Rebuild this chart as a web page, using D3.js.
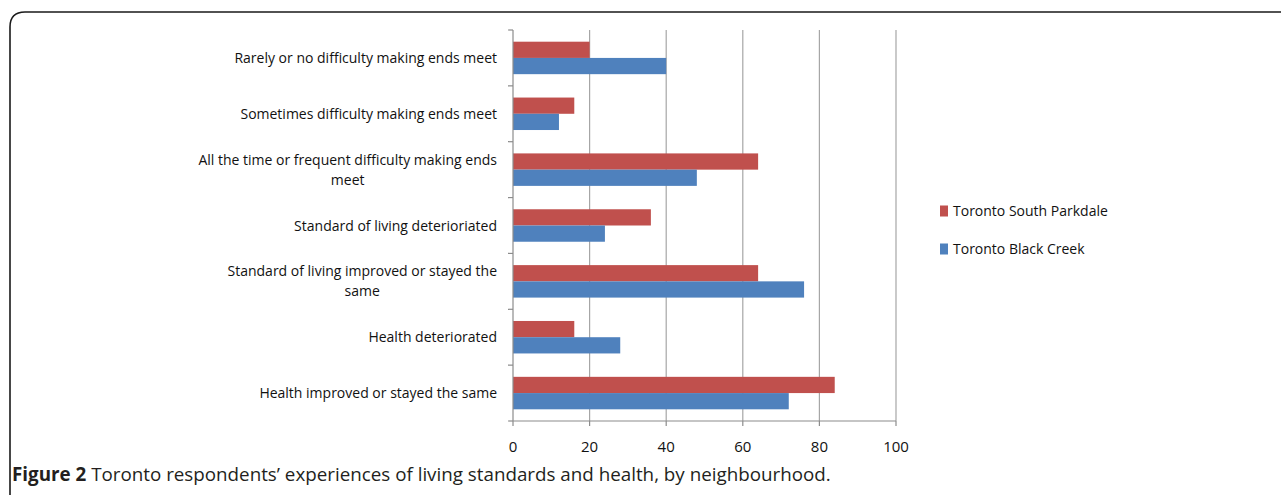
<!DOCTYPE html>
<html>
<head>
<meta charset="utf-8">
<script src="https://cdn.jsdelivr.net/npm/d3@7"></script>
<style>
  html, body { margin: 0; padding: 0; background: #fff; }
  svg { display: block; }
  .lbl { font-family: "Open Sans", "Noto Sans", sans-serif; font-size: 14px; fill: #111; }
  .tick { font-size: 15px; }
  .caption { font-family: "Open Sans", "Noto Sans", sans-serif; font-size: 18.8px; fill: #231f20; }
</style>
</head>
<body>
<div id="chart"></div>
<script>
// --- DATA ---
const categories = [
    ["Rarely or no difficulty making ends meet"],
    ["Sometimes difficulty making ends meet"],
    ["All the time or frequent difficulty making ends", "meet"],
    ["Standard of living deterioriated"],
    ["Standard of living improved or stayed the", "same"],
    ["Health deteriorated"],
    ["Health improved or stayed the same"]
];
const seriesNames = ["Toronto South Parkdale", "Toronto Black Creek"];
const parkdale   = [20, 16, 64, 36, 64, 16, 84];
const blackCreek = [40, 12, 48, 24, 76, 28, 72];
const xTicks = [0, 20, 40, 60, 80, 100];

const width = 1281, height = 495;
const margin = { top: 30, left: 513, right: 385, bottom: 74 };
const colors = ["#C0504D", "#4F81BD"];

const svg = d3.select("#chart").append("svg")
    .attr("width", width).attr("height", height);

// rounded frame, open to the right and bottom
svg.append("path")
    .attr("d", `M10,${height + 2} L10,27 Q10,12 25,12 L${width + 2},12`)
    .attr("fill", "none")
    .attr("stroke", "#1a1a1a")
    .attr("stroke-width", 1.6);

const xScale = d3.scaleLinear()
    .domain([0, 100])
    .range([margin.left, width - margin.right]);

const yScale = d3.scaleBand()
    .domain(d3.range(categories.length))
    .range([margin.top, height - margin.bottom])
    .padding(0);

const inner = d3.scaleBand()
    .domain([0, 1])
    .range([0, yScale.bandwidth()])
    .paddingInner(0)
    .paddingOuter(0.72);

// gridlines
svg.append("g").selectAll("line")
    .data(xTicks.filter(t => t > 0)).enter().append("line")
    .attr("x1", d => xScale(d)).attr("x2", d => xScale(d))
    .attr("y1", margin.top).attr("y2", height - margin.bottom)
    .attr("stroke", "#a6a6a6").attr("stroke-width", 1.2);

// bars
const rows = categories.map((c, i) => ({ i, vals: [parkdale[i], blackCreek[i]] }));
const groups = svg.append("g").selectAll("g")
    .data(rows).enter().append("g")
    .attr("transform", d => `translate(0,${yScale(d.i)})`);

groups.selectAll("rect")
    .data(d => d.vals.map((v, s) => ({ v, s }))).enter().append("rect")
    .attr("x", xScale(0))
    .attr("y", d => inner(d.s))
    .attr("width", d => xScale(d.v) - xScale(0))
    .attr("height", inner.bandwidth())
    .attr("fill", d => colors[d.s]);

// axes
const axisColor = "#8c8c8c";
const yBottom = height - margin.bottom;
svg.append("line")
    .attr("x1", xScale(0)).attr("x2", xScale(0))
    .attr("y1", margin.top).attr("y2", yBottom)
    .attr("stroke", axisColor).attr("stroke-width", 1.2);
svg.append("line")
    .attr("x1", xScale(0)).attr("x2", xScale(100))
    .attr("y1", yBottom).attr("y2", yBottom)
    .attr("stroke", axisColor).attr("stroke-width", 1.2);

const boundaries = d3.range(categories.length + 1).map(i =>
    i < categories.length ? yScale(i) : yScale(i - 1) + yScale.bandwidth());
svg.append("g").selectAll("line")
    .data(boundaries).enter().append("line")
    .attr("x1", xScale(0) - 5).attr("x2", xScale(0))
    .attr("y1", d => d).attr("y2", d => d)
    .attr("stroke", axisColor).attr("stroke-width", 1.2);

svg.append("g").selectAll("line")
    .data(xTicks).enter().append("line")
    .attr("x1", d => xScale(d)).attr("x2", d => xScale(d))
    .attr("y1", yBottom).attr("y2", yBottom + 5)
    .attr("stroke", axisColor).attr("stroke-width", 1.2);

svg.append("g").selectAll("text")
    .data(xTicks).enter().append("text")
    .attr("class", "lbl tick")
    .attr("x", d => xScale(d))
    .attr("y", yBottom + 31)
    .attr("text-anchor", "middle")
    .text(d => d);

// category labels (wrapped lines centred on the widest line, right edge at axis)
const labelRight = xScale(0) - 16;
categories.forEach((lines, i) => {
    const cy = yScale(i) + yScale.bandwidth() / 2;
    const t = svg.append("text").attr("class", "lbl");
    const spans = lines.map((ln, k) => t.append("tspan")
        .attr("y", cy + 5 + (k - (lines.length - 1) / 2) * 20)
        .text(ln));
    if (lines.length === 1) {
        t.attr("text-anchor", "end");
        spans[0].attr("x", labelRight);
    } else {
        const w = d3.max(spans, s => s.node().getComputedTextLength());
        t.attr("text-anchor", "middle");
        spans.forEach(s => s.attr("x", labelRight - w / 2));
    }
});

// legend
const legend = svg.append("g").selectAll("g")
    .data(seriesNames).enter().append("g")
    .attr("transform", (d, i) => `translate(940,${211 + i * 38})`);
legend.append("rect")
    .attr("x", 0).attr("y", -5.5)
    .attr("width", 8).attr("height", 11)
    .attr("fill", (d, i) => colors[i]);
legend.append("text")
    .attr("class", "lbl")
    .attr("x", 13).attr("y", 5)
    .text(d => d);

// caption
const cap = svg.append("text").attr("class", "caption")
    .attr("x", 12).attr("y", 481);
cap.append("tspan").attr("font-weight", "bold").text("Figure 2");
cap.append("tspan").text(" Toronto respondents’ experiences of living standards and health, by neighbourhood.");
</script>
</body>
</html>
